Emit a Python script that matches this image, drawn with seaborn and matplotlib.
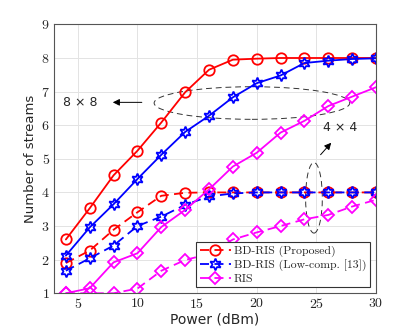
import numpy as np
import pandas as pd
import matplotlib
matplotlib.use('Agg')
import matplotlib.pyplot as plt
from matplotlib.lines import Line2D
from matplotlib.patches import Ellipse
import seaborn as sns

# Data
power = [4, 6, 8, 10, 12, 14, 16, 18, 20, 22, 24, 26, 28, 30]

bd_prop_8 = [2.6, 3.53, 4.51, 5.24, 6.08, 6.98, 7.65, 7.95, 7.98, 8, 8, 8, 8, 8]
bd_low_8 = [2.12, 2.96, 3.65, 4.4, 5.12, 5.8, 6.28, 6.83, 7.25, 7.48, 7.85, 7.92, 7.97, 7.99]
ris_8 = [1.0, 1.15, 1.92, 2.19, 2.97, 3.48, 4.09, 4.77, 5.18, 5.78, 6.13, 6.57, 6.85, 7.13]

bd_prop_4 = [1.9, 2.27, 2.89, 3.41, 3.9, 3.99, 4, 4, 4, 4, 4, 4, 4, 4]
bd_low_4 = [1.67, 2.04, 2.42, 3.0, 3.28, 3.63, 3.88, 3.97, 4, 4, 4, 4, 4, 4]
ris_4 = [1.0, 1.0, 1.0, 1.14, 1.67, 1.99, 2.17, 2.6, 2.81, 3.0, 3.2, 3.33, 3.58, 3.78]

labels = ['BD-RIS (Proposed)', 'BD-RIS (Low-comp. [13])', 'RIS']

sns.set_style('whitegrid')
serif = ['cmr10', 'DejaVu Serif']
plt.rcParams['axes.formatter.use_mathtext'] = True

fig = plt.figure(figsize=(4.15, 3.34), dpi=100)
ax = fig.add_axes([0.130, 0.122, 0.776, 0.805])

star = (6, 1, 0)
styles = [
    ('red', 'o', 7.5),
    ('blue', star, 8.5),
    ('magenta', 'D', 6.5),
]

series_8 = [bd_prop_8, bd_low_8, ris_8]
series_4 = [bd_prop_4, bd_low_4, ris_4]

for (color, marker, ms), y8, y4 in zip(styles, series_8, series_4):
    df = pd.DataFrame({'power': power, 'y8': y8, 'y4': y4})
    sns.lineplot(data=df, x='power', y='y8', ax=ax, color=color, marker=marker,
                 markersize=ms, markerfacecolor='none', markeredgecolor=color,
                 markeredgewidth=1.3, linewidth=1.3)
    sns.lineplot(data=df, x='power', y='y4', ax=ax, color=color, marker=marker,
                 markersize=ms, markerfacecolor='none', markeredgecolor=color,
                 markeredgewidth=1.3, linewidth=1.3, linestyle=(0, (5, 3)))

ax.set_xlim(3, 30)
ax.set_ylim(1, 9)
ax.set_xticks([5, 10, 15, 20, 25, 30])
ax.set_yticks(range(1, 10))
for lab in ax.get_xticklabels() + ax.get_yticklabels():
    lab.set_family(serif)
    lab.set_fontsize(10)
ax.tick_params(axis='both', direction='in', length=3, color='#555555', pad=3)
ax.grid(True, color='#e3e3e3', linewidth=0.7)
for s in ax.spines.values():
    s.set_color('#555555')
    s.set_linewidth(0.8)

ax.set_xlabel('Power (dBm)', fontsize=10, family='DejaVu Sans', labelpad=1)
ax.set_ylabel('Number of streams', fontsize=9.5, family='DejaVu Sans', labelpad=3)

# annotations
ax.add_patch(Ellipse((19.6, 6.66), 16.4, 0.97, fill=False, edgecolor='#333333',
                     linestyle=(0, (6, 4)), linewidth=0.7))
ax.add_patch(Ellipse((24.8, 3.84), 1.4, 2.1, fill=False, edgecolor='#333333',
                     linestyle=(0, (6, 4)), linewidth=0.7))
ax.annotate('', xy=(7.7, 6.68), xytext=(10.6, 6.68),
            arrowprops=dict(arrowstyle='-|>', color='black', lw=0.7, mutation_scale=10))
ax.text(5.2, 6.68, '8 × 8', fontsize=9, ha='center', va='center', family='DejaVu Sans')
ax.annotate('', xy=(26.4, 5.54), xytext=(25.2, 5.06),
            arrowprops=dict(arrowstyle='-|>', color='black', lw=0.7, mutation_scale=10))
ax.text(27.0, 5.94, '4 × 4', fontsize=9, ha='center', va='center', family='DejaVu Sans')

handles = [Line2D([0], [0], color=c, marker=m, markersize=ms, markerfacecolor='none',
                  markeredgewidth=1.3, linewidth=1.3, linestyle=(0, (5, 3)))
           for c, m, ms in styles]
leg = ax.legend(handles, labels, loc='lower right', prop={'family': serif, 'size': 8.5},
                frameon=True, fancybox=False, edgecolor='#333333', framealpha=1,
                borderaxespad=0.5, handlelength=2.6, handletextpad=0.3,
                labelspacing=0.2, borderpad=0.3)
leg.get_frame().set_linewidth(0.8)

fig.savefig('out.png', dpi=100)
